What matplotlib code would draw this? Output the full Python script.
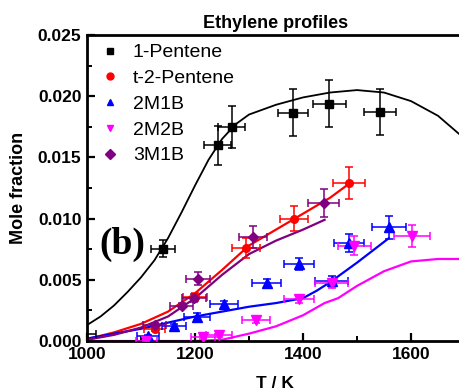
import matplotlib
matplotlib.use("Agg")
import matplotlib.pyplot as plt
from matplotlib.lines import Line2D
from matplotlib.ticker import MultipleLocator, FormatStrFormatter

plt.rcParams['font.family'] = ['Liberation Sans', 'DejaVu Sans']

# ---- experimental data ----
pent1_T = [992, 1141, 1242, 1268, 1381, 1449, 1543]
pent1_X = [0.0006, 0.00754, 0.0160, 0.0175, 0.01865, 0.0194, 0.0187]
pent1_xerr = [24, 22, 25, 25, 28, 30, 30]
pent1_yerr = [0.0001, 0.0007, 0.0016, 0.0017, 0.0019, 0.0019, 0.0019]

t2p_T = [1125, 1200, 1294, 1383, 1485]
t2p_X = [0.0010, 0.0036, 0.0076, 0.0100, 0.0129]
t2p_xerr = [20, 22, 26, 26, 29]
t2p_yerr = [0.0002, 0.0003, 0.0008, 0.0010, 0.0013]

m2m1b_T = [1113, 1161, 1204, 1253, 1333, 1393, 1453, 1485, 1559]
m2m1b_X = [0.0004, 0.0012, 0.0020, 0.0030, 0.0047, 0.0063, 0.0049, 0.0080, 0.0093]
m2m1b_xerr = [20, 22, 24, 26, 27, 28, 30, 28, 32]
m2m1b_yerr = [0.0001, 0.0002, 0.0003, 0.0003, 0.0004, 0.0005, 0.0004, 0.00075, 0.00095]

m2m2b_T = [1110, 1215, 1245, 1313, 1393, 1453, 1495, 1602]
m2m2b_X = [0.0000, 0.0003, 0.0005, 0.0017, 0.0034, 0.0047, 0.0078, 0.0086]
m2m2b_xerr = [20, 22, 24, 26, 28, 30, 30, 33]
m2m2b_yerr = [0.0001, 0.0001, 0.0002, 0.0002, 0.0003, 0.0004, 0.00076, 0.00088]

m3m1b_T = [1125, 1175, 1198, 1205, 1308, 1438]
m3m1b_X = [0.0013, 0.0029, 0.0035, 0.0051, 0.0085, 0.0113]
m3m1b_xerr = [22, 22, 22, 22, 26, 28]
m3m1b_yerr = [0.0002, 0.0002, 0.0003, 0.00055, 0.0009, 0.00115]

# ---- model curves ----
mod_pent1_T = [1000, 1025, 1050, 1075, 1100, 1125, 1150, 1175, 1200, 1225, 1250, 1275, 1300,
               1350, 1400, 1450, 1500, 1550, 1600, 1650, 1700]
mod_pent1_X = [0.0013, 0.0020, 0.0029, 0.0040, 0.0052, 0.0066, 0.0084, 0.0105, 0.0127, 0.0148,
               0.0165, 0.0177, 0.0185, 0.0193, 0.0199, 0.0203, 0.0205, 0.0203, 0.0196, 0.0184, 0.0165]

mod_t2p_T = [1000, 1050, 1100, 1150, 1200, 1250, 1300, 1350, 1400, 1450, 1490]
mod_t2p_X = [0.00015, 0.0007, 0.0014, 0.0024, 0.0039, 0.0058, 0.0078, 0.0091, 0.0104, 0.0117, 0.0130]

mod_3m1b_T = [1000, 1050, 1100, 1150, 1200, 1250, 1300, 1350, 1400, 1440]
mod_3m1b_X = [0.0001, 0.0005, 0.0011, 0.0020, 0.0035, 0.0054, 0.0071, 0.0082, 0.0091, 0.0099]

mod_2m1b_T = [1000, 1050, 1100, 1150, 1200, 1250, 1300, 1350, 1400, 1425, 1450, 1500, 1559]
mod_2m1b_X = [0.0002, 0.0006, 0.0010, 0.0015, 0.0020, 0.0024, 0.0028, 0.0031, 0.0035, 0.0041, 0.0048, 0.0064, 0.0084]

mod_2m2b_T = [1000, 1200, 1250, 1300, 1350, 1400, 1440, 1465, 1500, 1550, 1600, 1650, 1700]
mod_2m2b_X = [0.0, 0.0, 0.0001, 0.0006, 0.0012, 0.0021, 0.0031, 0.0035, 0.0045, 0.0057, 0.0065, 0.0067, 0.0067]

labels = ['1-Pentene', 't-2-Pentene', '2M1B', '2M2B', '3M1B']
colors = ['black', 'red', 'blue', 'magenta', '#800080']
markers = ['s', 'o', '^', 'v', 'D']
msizes = [5.5, 5.5, 6.5, 6.5, 5.2]

fig = plt.figure(figsize=(4.6, 3.92), dpi=100)
ax = fig.add_axes([87/460, 51/392, 378/460, 306/392])

# model lines
ax.plot(mod_pent1_T, mod_pent1_X, color=colors[0], lw=1.3, zorder=2)
ax.plot(mod_t2p_T, mod_t2p_X, color=colors[1], lw=1.6, zorder=2)
ax.plot(mod_2m1b_T, mod_2m1b_X, color=colors[2], lw=1.6, zorder=2)
ax.plot(mod_2m2b_T, mod_2m2b_X, color=colors[3], lw=1.6, zorder=2)
ax.plot(mod_3m1b_T, mod_3m1b_X, color=colors[4], lw=1.6, zorder=2)

data = [
    (pent1_T, pent1_X, pent1_xerr, pent1_yerr),
    (t2p_T, t2p_X, t2p_xerr, t2p_yerr),
    (m2m1b_T, m2m1b_X, m2m1b_xerr, m2m1b_yerr),
    (m2m2b_T, m2m2b_X, m2m2b_xerr, m2m2b_yerr),
    (m3m1b_T, m3m1b_X, m3m1b_xerr, m3m1b_yerr),
]
for (T, X, xe, ye), c, m, ms in zip(data, colors, markers, msizes):
    ax.errorbar(T, X, xerr=xe, yerr=ye, fmt=m, color=c, ms=ms, mec=c,
                elinewidth=1.1, capsize=3, capthick=1.1, zorder=3)

ax.set_xlim(1000, 1700)
ax.set_ylim(0, 0.025)
ax.xaxis.set_major_locator(MultipleLocator(200))
ax.xaxis.set_minor_locator(MultipleLocator(100))
ax.yaxis.set_major_locator(MultipleLocator(0.005))
ax.yaxis.set_minor_locator(MultipleLocator(0.0025))
ax.yaxis.set_major_formatter(FormatStrFormatter('%.3f'))

for s in ['left', 'bottom', 'top', 'right']:
    ax.spines[s].set_linewidth(2)
ax.tick_params(which='major', direction='in', length=6, width=1.6, labelsize=12.5, pad=4)
ax.tick_params(which='minor', direction='in', length=3.5, width=1.4)
ax.tick_params(top=False, right=False, which='both')
for lab in ax.get_xticklabels() + ax.get_yticklabels():
    lab.set_fontweight('bold')

ax.set_xlabel('T / K', fontsize=12.5, fontweight='bold', va='top')
ax.xaxis.set_label_coords((275-87)/378, -(376-341)/306)
ax.set_ylabel('Mole fraction', fontsize=13, fontweight='bold')
ax.yaxis.set_label_coords(-(87-27)/378, 0.5)
ax.set_title('Ethylene profiles', fontsize=13, fontweight='bold', pad=5)

ax.text(99/460, 1-244/392, '(b)', transform=fig.transFigure, fontsize=27,
        fontweight='bold', family=['Liberation Serif'], va='center', ha='left')

handles = [Line2D([], [], ls='none', marker=m, color=c, ms=5) for c, m in zip(colors, markers)]
ax.legend(handles, labels, loc='upper left', bbox_to_anchor=(93/460, 1-34/392),
          bbox_transform=fig.transFigure, frameon=False, fontsize=14,
          handletextpad=0.75, labelspacing=0.42, handlelength=0.8, borderpad=0)

fig.savefig('out.png', dpi=100)
